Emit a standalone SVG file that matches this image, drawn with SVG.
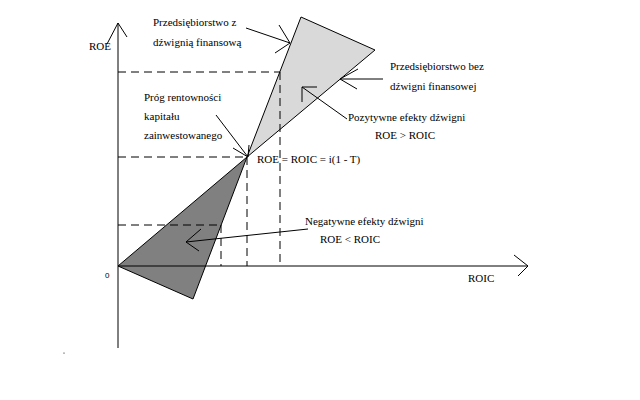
<svg xmlns="http://www.w3.org/2000/svg" width="640" height="400" viewBox="0 0 640 400">
<style>
text{font-family:'Liberation Serif','Times New Roman',serif;font-size:11px;fill:#000}
.ln{stroke:#000;stroke-width:1;fill:none}
.dash{stroke:#000;stroke-width:1;fill:none;stroke-dasharray:8,5}
.tri{stroke:#000;stroke-width:1}
</style>
<rect width="640" height="400" fill="#fff"/>
<g id="regions">
<polygon id="light-triangle" class="tri" fill="#d9d9d9" points="247,157 301,17 375,50"/>
<polygon id="dark-triangle" class="tri" fill="#808080" points="247,157 118,266 193,299"/>
</g>
<g id="guides">
<path class="dash" d="M118,72H280M280,72V266M118,157H247M247,157V266M118,225H221M221,225V266"/>
</g>
<g id="axes" font-family="Liberation Serif, serif">
<path class="ln" d="M118,348V23M107,44L118,23L127,37"/>
<path class="ln" d="M118,266H528M514,255L528,266L518,276"/>
<text x="89" y="50">ROE</text>
<text x="468" y="282">ROIC</text>
<text x="105" y="278" style="font-size:8px;font-family:'Liberation Sans',Arial,sans-serif">0</text>
<circle cx="64" cy="353" r="0.6" fill="#000"/>
</g>
<g id="connectors">
<path class="ln" d="M246,28L290,43M279,25L290,43L275,53"/>
<path class="ln" d="M216,115L248,157M233,148L248,157L249,145"/>
<path class="ln" d="M383,79H340M358,69L340,79L357,89"/>
<path class="ln" d="M347,119L302,87M317,87H302V102"/>
<path class="ln" d="M308,229L186,242M201,229L186,242L199,251"/>
</g>
<g id="label-z" font-family="Liberation Serif, serif">
<text x="153" y="26">Przedsiębiorstwo z</text>
<text x="153" y="46">dźwignią finansową</text>
</g>
<g id="label-bez" font-family="Liberation Serif, serif">
<text x="390" y="70">Przedsiębiorstwo bez</text>
<text x="390" y="90">dźwigni finansowej</text>
</g>
<g id="label-pozytywne" font-family="Liberation Serif, serif">
<text x="348" y="121">Pozytywne efekty dźwigni</text>
<text x="375" y="139">ROE &gt; ROIC</text>
</g>
<g id="label-prog" font-family="Liberation Serif, serif">
<text x="144" y="101">Próg rentowności</text>
<text x="144" y="120">kapitału</text>
<text x="144" y="139">zainwestowanego</text>
</g>
<g id="label-point" font-family="Liberation Serif, serif">
<text x="257" y="163">ROE = ROIC = i(1 - T)</text>
</g>
<g id="label-negatywne" font-family="Liberation Serif, serif">
<text x="305" y="225">Negatywne efekty dźwigni</text>
<text x="320" y="243">ROE &lt; ROIC</text>
</g>
</svg>
